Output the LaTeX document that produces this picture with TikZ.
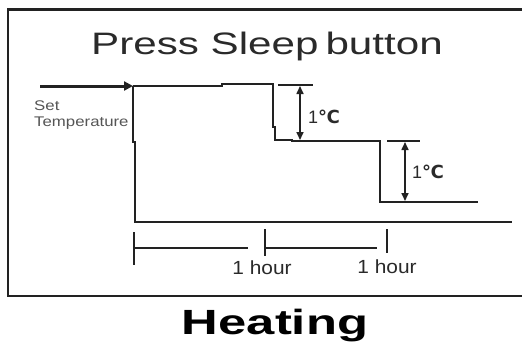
\documentclass[tikz,border=0pt]{standalone}
\usepackage{fontspec}
\setmainfont{Liberation Sans}
\newfontfamily\dejavu{DejaVu Sans}
\usetikzlibrary{arrows.meta}
\definecolor{ink}{HTML}{222222}
\definecolor{txt}{HTML}{2A2A2A}
\definecolor{soft}{HTML}{555555}
\begin{document}
\begin{tikzpicture}[x=1pt,y=-1pt,
  frame/.style={draw=ink,line width=2.4pt},
  curve/.style={draw=ink,line width=2pt},
  dimline/.style={draw=ink,line width=1.6pt},
  dimarrow/.style={draw=ink,line width=1.6pt,{Triangle[length=8pt,width=7pt]}-{Triangle[length=8pt,width=7pt]}},
  setarrow/.style={draw=ink,line width=3pt,-{Triangle[length=9pt,width=9pt]}},
  tick/.style={draw=ink,line width=1.6pt},
  lbl/.style={text=txt,inner sep=0pt}]
\useasboundingbox (0,0) rectangle (522,349);
\fill[white] (0,0) rectangle (522,349);
\draw[frame] (8,9.5) rectangle (540,296);
% title
\node[lbl,font=\fontsize{31}{31}\selectfont,xscale=1.36] (title) at (267,46) {Press Sleep\,button};
\node[lbl,text=black,font=\fontsize{35}{35}\selectfont\bfseries,xscale=1.45] (heat) at (275,326) {Heating};
% set temperature
\coordinate (s0) at (40,86);
\coordinate (s1) at (133,86);
\draw[setarrow] (s0) -- (s1);
\node[lbl,text=soft,font=\fontsize{14}{14}\selectfont,anchor=west,xscale=1.2] (set) at (34,106) {Set};
\node[lbl,text=soft,font=\fontsize{14}{14}\selectfont,anchor=west,xscale=1.2] (temp) at (34,123) {Temperature};
% step curve
\draw[curve] (s1) -- (222,86) -- (222,83.5) -- (273,83.5) -- (273,127) -- (275,127) -- (275,140) -- (292,140) -- (292,141) -- (380,141) -- (380,202) -- (478,202);
% left vertical and base
\draw[curve] (s1) -- (133,142) -- (134.5,142) -- (134.5,222) -- (512,222);
% first 1C
\coordinate (r1a) at (278,85);
\coordinate (r1b) at (313,85);
\draw[dimline] (r1a) -- (r1b);
\coordinate (a1t) at (300,86);
\coordinate (a1b) at (300,140);
\draw[dimarrow] (a1t) -- (a1b);
\node[lbl,font=\fontsize{18}{18}\selectfont] (c1) at (324,117) {1{\dejavu\bfseries ℃}};
% second 1C
\coordinate (r2a) at (387,141);
\coordinate (r2b) at (420,141);
\draw[dimline] (r2a) -- (r2b);
\coordinate (a2t) at (405,142);
\coordinate (a2b) at (405,201);
\draw[dimarrow] (a2t) -- (a2b);
\node[lbl,font=\fontsize{18}{18}\selectfont] (c2) at (428,172) {1{\dejavu\bfseries ℃}};
% time axis
\coordinate (t0a) at (134,232); \coordinate (t0b) at (134,265);
\coordinate (t1a) at (265,229); \coordinate (t1b) at (265,256);
\coordinate (t2a) at (387,229); \coordinate (t2b) at (387,253);
\draw[tick] (t0a) -- (t0b);
\draw[tick] (t1a) -- (t1b);
\draw[tick] (t2a) -- (t2b);
\coordinate (h0) at (134,248); \coordinate (h0e) at (248,248);
\coordinate (h1) at (265,248); \coordinate (h1e) at (377,248);
\draw[tick] (h0) -- (h0e);
\draw[tick] (h1) -- (h1e);
\node[lbl,font=\fontsize{19}{19}\selectfont,xscale=1.1] (hr1) at (262,268) {1 hour};
\node[lbl,font=\fontsize{19}{19}\selectfont,xscale=1.1] (hr2) at (387,267) {1 hour};
\end{tikzpicture}
\end{document}
